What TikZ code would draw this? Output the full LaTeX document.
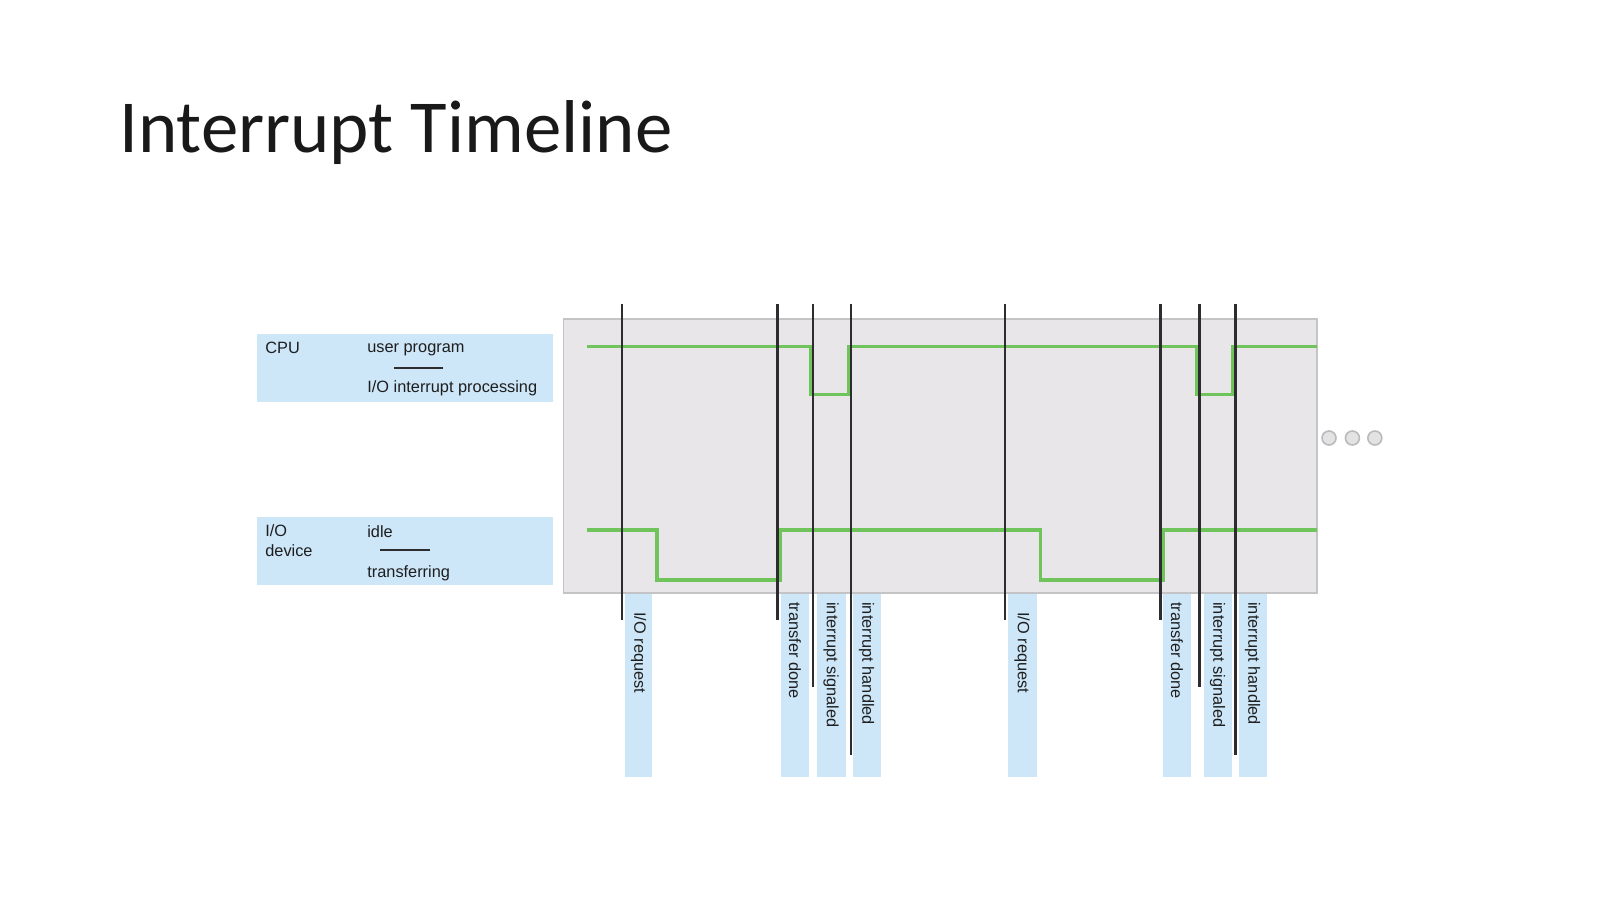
\documentclass[tikz,border=0pt]{standalone}
\usepackage{fontspec}
\setmainfont{Liberation Sans}
\newfontfamily\titlefont{Carlito}
\definecolor{legendblue}{RGB}{205,230,248}
\definecolor{panelgray}{RGB}{233,230,234}
\definecolor{panelline}{RGB}{196,196,198}
\definecolor{sigreen}{RGB}{112,196,92}
\definecolor{markgray}{RGB}{45,45,48}
\definecolor{labelgray}{RGB}{30,30,30}
\tikzset{
  lbl/.style={anchor=base west, inner sep=0pt, text=labelgray,
    font=\fontsize{9.3}{11}\selectfont},
  vlbl/.style={anchor=west, inner sep=0pt, rotate=-90, text=labelgray,
    font=\fontsize{9.3}{11}\selectfont},
  sepline/.style={markgray, line width=1.1pt},
  panel/.style={fill=panelgray, draw=panelline, line width=0.9pt},
  signal/.style={sigreen, line width=1.9pt},
  marker/.style={markgray, line width=1.25pt},
  stripbox/.style={fill=legendblue},
  dotmark/.style={fill=black!11, draw=black!27, line width=0.9pt}
}

\begin{document}
\begin{tikzpicture}[x=0.02cm,y=-0.02cm]
  \fill [white] (0,0) rectangle (1598,908);
  \node [anchor=base west, inner sep=0pt, text=black!90,
    font=\titlefont\fontsize{42.6}{50}\selectfont] (title) at (119,153) {Interrupt Timeline};

  % legend
  \fill [legendblue] (257,334) rectangle (553,402.5);
  \fill [legendblue] (257,517) rectangle (553,585);
  \node [lbl] (cpu) at (265,353.5) {CPU};
  \node [lbl] (user) at (367,353) {user program};
  \draw [sepline] (394,368) -- (443,368);
  \node [lbl] (isr) at (367,393) {I/O interrupt processing};
  \node [lbl] (io) at (265,536) {I/O};
  \node [lbl] (dev) at (265,556) {device};
  \node [lbl] (idle) at (367,537) {idle};
  \draw [sepline] (380,550) -- (430,550);
  \node [lbl] (xfer) at (367,577) {transferring};

  % timeline panel
  \draw [panel] (563.6,319) rectangle (1316.7,593);

  % label strips
  \fill [stripbox] (624.7,594) rectangle (652.2,777);
  \fill [stripbox] (781,594) rectangle (809,777);
  \fill [stripbox] (816.5,594) rectangle (845.5,777);
  \fill [stripbox] (852.5,594) rectangle (881,777);
  \fill [stripbox] (1008,594) rectangle (1036.5,777);
  \fill [stripbox] (1163,594) rectangle (1191,777);
  \fill [stripbox] (1204,594) rectangle (1231.5,777);
  \fill [stripbox] (1238.5,594) rectangle (1266.5,777);
  \node [vlbl] (req1) at (638.5,612) {I/O request};
  \node [vlbl] (done1) at (795,602) {transfer done};
  \node [vlbl] (sig1) at (831,602) {interrupt signaled};
  \node [vlbl] (hand1) at (866.7,602) {interrupt handled};
  \node [vlbl] (req2) at (1022.2,612) {I/O request};
  \node [vlbl] (done2) at (1177,602) {transfer done};
  \node [vlbl] (sig2) at (1217.7,602) {interrupt signaled};
  \node [vlbl] (hand2) at (1252.5,602) {interrupt handled};

  % CPU and device signals
  \draw [signal] (587,346.5) -- (810.5,346.5) -- (810.5,394.5) -- (848.5,394.5) -- (848.5,346.5)
    -- (1197,346.5) -- (1197,394.5) -- (1233,394.5) -- (1233,346.5) -- (1316.7,346.5);
  \draw [signal] (587,530) -- (657,530) -- (657,580) -- (780,580) -- (780,530)
    -- (1040.5,530) -- (1040.5,580) -- (1163,580) -- (1163,530) -- (1316.7,530);

  % event markers
  \draw [marker] (621.6,303.7) -- (621.6,620);
  \draw [marker] (777.5,303.7) -- (777.5,620);
  \draw [marker] (813,303.7) -- (813,687);
  \draw [marker] (851,303.7) -- (851,755);
  \draw [marker] (1005,303.7) -- (1005,620);
  \draw [marker] (1160.5,303.7) -- (1160.5,620);
  \draw [marker] (1199.5,303.7) -- (1199.5,687);
  \draw [marker] (1235.5,303.7) -- (1235.5,755);

  % more to come
  \draw [dotmark] (1329,438) circle [radius=0.14cm];
  \draw [dotmark] (1352.4,438) circle [radius=0.14cm];
  \draw [dotmark] (1374.8,438) circle [radius=0.14cm];
\end{tikzpicture}
\end{document}
